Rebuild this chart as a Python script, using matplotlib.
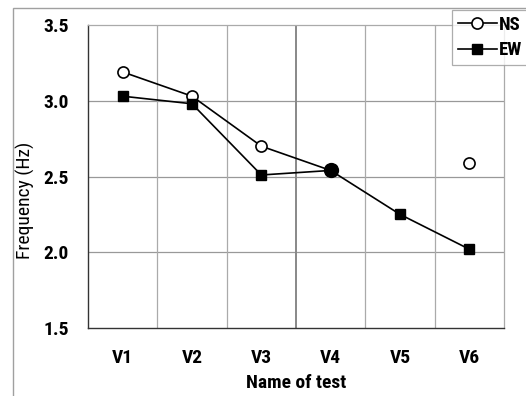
import numpy as np
import matplotlib
matplotlib.use("Agg")
import matplotlib.pyplot as plt
from matplotlib.patches import Rectangle

tests = ["V1", "V2", "V3", "V4", "V5", "V6"]
ns_freq = [3.19, 3.03, 2.70, 2.54, np.nan, 2.59]
ew_freq = [3.03, 2.98, 2.51, 2.54, 2.25, 2.02]
y_ticks = [1.5, 2.0, 2.5, 3.0, 3.5]

plt.rcParams["font.family"] = ["Roboto Condensed", "DejaVu Sans"]

W, H = 526, 396
fig = plt.figure(figsize=(W / 100, H / 100), dpi=100)

# light outer frame around the chart area
fig.patches.append(Rectangle((13 / W, -0.1), 1.2, 1 - 8 / H + 0.1,
                             transform=fig.transFigure, fill=False,
                             edgecolor="#a0a0a0", linewidth=1.0))

ax = fig.add_axes([88 / W, 68 / H, 416 / W, 303 / H])
x = np.arange(len(tests))

ax.set_xlim(-0.5, len(tests) - 0.5)
ax.set_ylim(1.5, 3.5)

# grid: horizontal at major y ticks, vertical between categories
for yv in y_ticks[1:-1]:
    ax.axhline(yv, color="#999999", lw=0.9, zorder=1)
for i, xv in enumerate(np.arange(0.5, len(tests) - 0.5, 1.0)):
    mid = (i == 2)
    ax.axvline(xv, color="#888888" if mid else "#aaaaaa", lw=1.4 if mid else 0.9, zorder=1)

ax.plot(x, ns_freq, color="black", lw=1.2, marker="o", markersize=8,
        markerfacecolor="white", markeredgecolor="black", markeredgewidth=1.2,
        label="NS", zorder=3)
ax.plot(x, ew_freq, color="black", lw=1.2, marker="s", markersize=7,
        markerfacecolor="black", markeredgecolor="black",
        label="EW", zorder=4)
# coincident reading at V4
ax.plot(x[3], ew_freq[3], marker="o", markersize=10, color="black", zorder=5)

ax.set_xticks(x)
ax.set_xticklabels(tests, fontsize=14, fontweight="bold")
ax.set_yticks(y_ticks)
ax.set_yticklabels([f"{v:.1f}" for v in y_ticks], fontsize=14, fontweight="bold")
ax.tick_params(axis="both", length=0)
ax.tick_params(axis="y", pad=14)
ax.tick_params(axis="x", pad=15)

ax.set_xlabel("Name of test", fontsize=14, fontweight="bold", labelpad=5)
ax.set_ylabel("Frequency (Hz)", fontsize=14, fontweight="normal")
ax.yaxis.set_label_coords(-53 / 416, 0.42)

for side in ["left", "bottom"]:
    ax.spines[side].set_color("#333333")
    ax.spines[side].set_linewidth(1.0)
for side in ["top", "right"]:
    ax.spines[side].set_color("#aaaaaa")
    ax.spines[side].set_linewidth(0.9)

leg = fig.legend(loc="upper left", bbox_to_anchor=(452 / W, 1 - 10 / H),
                 frameon=True, fancybox=False, borderpad=0.3, handlelength=2.1,
                 handletextpad=0.1, labelspacing=0.4, borderaxespad=0,
                 prop={"size": 13.5, "weight": "bold"})
leg.get_frame().set_edgecolor("#999999")
leg.get_frame().set_linewidth(0.9)

fig.savefig("out.png", dpi=100)
